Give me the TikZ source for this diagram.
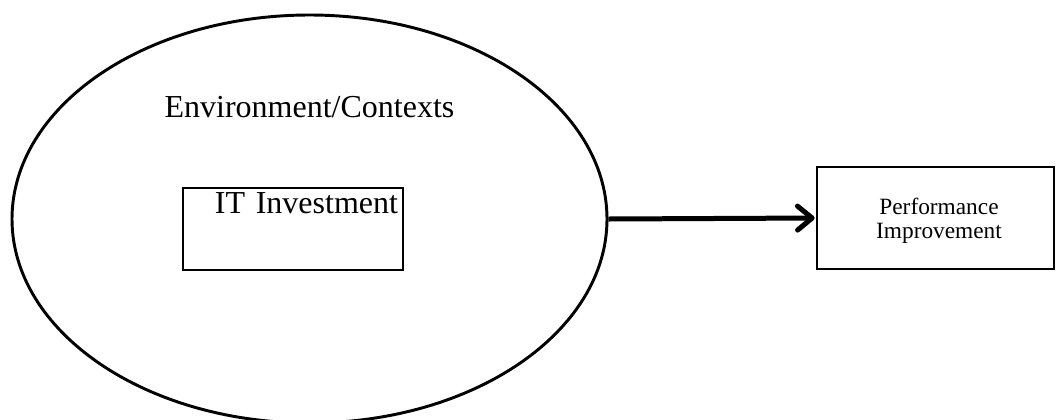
\documentclass[tikz,border=0pt]{standalone}
\usepackage{fontspec}
\setmainfont{Liberation Serif}
\usetikzlibrary{arrows.meta,shapes.geometric}
\begin{document}
\begin{tikzpicture}[x=0.75pt,y=-0.75pt,
  envshape/.style={draw,ellipse,line width=2.2pt,inner sep=0pt,minimum width=595*0.75pt,minimum height=408*0.75pt},
  bigtext/.style={font=\fontsize{24}{28}\selectfont,inner sep=0pt},
  itbox/.style={draw,line width=1.5pt,inner xsep=5*0.75pt,inner ysep=0pt,text width=210*0.75pt,align=right,
    text height=25*0.75pt,text depth=57*0.75pt,font=\fontsize{24}{28}\selectfont},
  perfbox/.style={draw,line width=1.5pt,inner sep=0pt,minimum width=237*0.75pt,minimum height=102*0.75pt},
  perftext/.style={inner sep=0pt,align=center,font=\fontsize{17.5}{18}\selectfont},
  flow/.style={line width=3.75pt,-{Straight Barb[length=11pt,width=18pt,line cap=round,line join=round]}}
]
\useasboundingbox (0,0) rectangle (1056,419);
\clip (0,0) rectangle (1056,419);
\node[envshape] (env) at (309.5,219) {};
\node[bigtext,anchor=base] (envtext) at (309.5,117) {Environment/Contexts};
\node[itbox] (it) at (293,229) {IT Investment};
\node[perfbox] (perf) at (935.5,218) {};
\node[perftext] (perftxt) at (939,221) {Performance\\Improvement};
\draw[flow,shorten >=1pt] (env.east) -- (perf.west);
\end{tikzpicture}
\end{document}
